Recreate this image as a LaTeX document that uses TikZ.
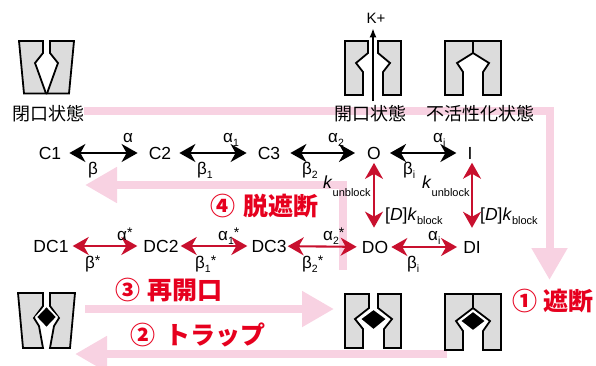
\documentclass[tikz,border=0pt]{standalone}
\usepackage{fontspec}
\setmainfont{Liberation Sans}
\newfontfamily\jp{Noto Sans CJK JP}
\usetikzlibrary{arrows.meta,calc}
\definecolor{blockpink}{RGB}{248,210,226}
\definecolor{arrowred}{RGB}{200,16,46}
\definecolor{labelred}{RGB}{230,0,30}
\definecolor{poregray}{RGB}{220,220,220}
% small lowered / raised text for rate constants
\newcommand{\lsb}[1]{\raisebox{-4pt}{\fontsize{10.5}{10.5}\selectfont #1}}
\newcommand{\lsp}[1]{\raisebox{3pt}{\fontsize{14}{14}\selectfont #1}}
\newcommand{\rsub}[2]{\raisebox{#1}{\fontsize{11}{11}\selectfont #2}}
\begin{document}
\begin{tikzpicture}[x=1pt,y=-1pt,
  state/.style={inner sep=0pt, font=\fontsize{17.5}{17.5}\selectfont},
  rate/.style={inner sep=0pt, anchor=base west, font=\fontsize{17}{17}\selectfont},
  krate/.style={inner sep=0pt, anchor=base west, font=\fontsize{17.5}{17.5}\selectfont},
  jplabel/.style={inner sep=0pt, font=\jp\fontsize{18}{18}\selectfont},
  steplabel/.style={inner sep=0pt, anchor=west, text=labelred, font=\jp\bfseries\fontsize{25}{25}\selectfont},
  biarrow/.style={line width=2.1pt, {Stealth[length=16pt,width=18pt,inset=5pt]}-{Stealth[length=16pt,width=18pt,inset=5pt]}},
  blackarrow/.style={biarrow, draw=black},
  redarrow/.style={biarrow, draw=arrowred},
  pinkarrow/.style={draw=blockpink, line width=8pt, line join=miter, -{Triangle[length=32pt,width=34pt]}},
  piece/.style={draw=black, fill=poregray, line width=1.8pt, line join=miter, miter limit=3},
  drug/.style={fill=black, draw=white, line width=1.6pt, line join=miter},
]
\useasboundingbox (0,0) rectangle (596,365);

% ---- process arrows (background) ----
\coordinate (blkS) at (84,111);  \coordinate (blkE) at (549.5,280);
\coordinate (trpS) at (447,354); \coordinate (trpE) at (75,354);
\coordinate (reoS) at (85,309);  \coordinate (reoE) at (334,309);
\coordinate (unbS) at (343,270); \coordinate (unbE) at (85,185);
\draw[pinkarrow] (blkS) -| (blkE);
\draw[pinkarrow] (trpS) -- (trpE);
\draw[pinkarrow] (reoS) -- (reoE);
\draw[pinkarrow] (unbS) |- (unbE);

% ---- channel cartoons, top row ----
% closed
\draw[piece] (19,41) -- (43,41) -- (43,53) -- (35,63) -- (36.5,67) -- (46,93.5) -- (24,93.5) -- cycle;
\draw[piece] (74,41) -- (50,41) -- (50,53) -- (58,63) -- (56.5,67) -- (47,93.5) -- (69,93.5) -- cycle;
% open
\draw[piece] (345,41) -- (368,41) -- (368,53) -- (356,63) -- (363,72) -- (363,95) -- (345,95) -- cycle;
\draw[piece] (401,41) -- (378,41) -- (378,53) -- (390,63) -- (383,72) -- (383,95) -- (401,95) -- cycle;
% inactivated
\draw[piece] (445,41) -- (501,41) -- (501,95) -- (483,95) -- (483,72) -- (489,63) -- (473,53)
  -- (457,63) -- (463,72) -- (463,95) -- (445,95) -- cycle;
\draw[line width=2.2pt] (473,41) -- (473,53);

% K+ flux
\node[inner sep=0pt, font=\fontsize{15}{15}\selectfont] (kion) at (376,18) {K+};
\coordinate (kbase) at (373,101);
\draw[line width=1.5pt, -{Latex[length=9pt,width=7pt]}, shorten >=5pt] (kbase) -- (kbase |- kion.south);

% ---- channel cartoons, bottom row (drug bound) ----
% trapped
\draw[piece] (18,293) -- (43,293) -- (43,306) -- (34,318) -- (39,326) -- (43,348) -- (23,348) -- cycle;
\draw[piece] (75,293) -- (50,293) -- (50,306) -- (59,318) -- (54,326) -- (50,348) -- (70,348) -- cycle;
\draw[drug] (36,317) -- (46.5,306) -- (57,317) -- (46.5,328) -- cycle;
% blocked open
\draw[piece] (345,294) -- (369,294) -- (369,308) -- (355,319) -- (363,329) -- (363,348) -- (345,348) -- cycle;
\draw[piece] (401,294) -- (378,294) -- (378,308) -- (392,319) -- (384,329) -- (384,348) -- (401,348) -- cycle;
\draw[drug] (360,319) -- (373.5,309) -- (387,319) -- (373.5,330) -- cycle;
% blocked inactivated
\draw[piece] (445,294) -- (501,294) -- (501,350) -- (483,350) -- (483,331) -- (490,321) -- (473,308)
  -- (456,321) -- (463,331) -- (463,350) -- (445,350) -- cycle;
\draw[line width=2.2pt] (473,294) -- (473,308);
\draw[drug] (460,321) -- (473,311) -- (486,321) -- (473,331) -- cycle;

% ---- state names ----
\node[jplabel] (lclosed) at (48.5,114) {閉口状態};
\node[jplabel] (lopen) at (370,114) {開口状態};
\node[jplabel] (linact) at (480,114) {不活性化状態};

% ---- kinetic scheme ----
\node[state] (C1) at (50,153) {C1};
\node[state] (C2) at (160,153) {C2};
\node[state] (C3) at (269,153) {C3};
\node[state] (O)  at (374,153) {O};
\node[state] (I)  at (470,153) {I};
\node[state] (DC1) at (51,246) {DC1};
\node[state] (DC2) at (161,246) {DC2};
\node[state] (DC3) at (269,246) {DC3};
\node[state] (DO)  at (375,247) {DO};
\node[state] (DI)  at (472,247) {DI};

\draw[blackarrow, shorten <=8pt, shorten >=11pt] (C1) -- (C2);
\draw[blackarrow, shorten <=8pt, shorten >=11pt] (C2) -- (C3);
\draw[blackarrow, shorten <=10pt, shorten >=12pt] (C3) -- (O);
\draw[blackarrow, shorten <=9pt, shorten >=11pt] (O) -- (I);
\draw[redarrow, shorten <=4pt, shorten >=6pt] (DC1) -- (DC2);
\draw[redarrow, shorten <=2pt, shorten >=4pt] (DC2) -- (DC3);
\draw[redarrow, shorten <=1pt, shorten >=5pt] (DC3) -- (DO);
\draw[redarrow, shorten <=3pt, shorten >=6pt] (DO) -- (DI);
\draw[redarrow, shorten <=3.5pt, shorten >=13pt] (O.south) -- (O.south |- DO.north);
\draw[redarrow, shorten <=3.5pt, shorten >=13pt] (DI.north |- I.south) -- (DI.north);

% rate constants
\node[rate] (a0) at (123,142) {α};
\node[rate] (a1) at (223,142) {α\lsb{1}};
\node[rate] (a2) at (328,142) {α\lsb{2}};
\node[rate] (ai) at (433,142) {α\lsb{i}};
\node[rate] (b0) at (88,174) {β};
\node[rate] (b1) at (197,174) {β\lsb{1}};
\node[rate] (b2) at (302,174) {β\lsb{2}};
\node[rate] (bi) at (403,174) {β\lsb{i}};
\node[rate] (as0) at (117,240) {α\lsp{*}};
\node[rate] (as1) at (218,240) {α\lsb{1}\lsp{*}};
\node[rate] (as2) at (323,240) {α\lsb{2}\lsp{*}};
\node[rate] (asi) at (428,240) {α\lsb{i}};
\node[rate] (bs0) at (85,268) {β\lsp{*}};
\node[rate] (bs1) at (195,268) {β\lsb{1}\lsp{*}};
\node[rate] (bs2) at (302,268) {β\lsb{2}\lsp{*}};
\node[rate] (bsi) at (407,268) {β\lsb{i}};
\node[krate] (ku1) at (323,188) {\textit{k}\rsub{-8pt}{unblock}};
\node[krate] (kb1) at (385,220) {[\textit{D}]\textit{k}\rsub{-4pt}{block}};
\node[krate] (ku2) at (422,188) {\textit{k}\rsub{-8pt}{unblock}};
\node[krate] (kb2) at (480,220) {[\textit{D}]\textit{k}\rsub{-4pt}{block}};

% ---- step labels ----
\node[steplabel] (s1) at (512,301) {①\hspace{6pt}遮断};
\node[steplabel] (s2) at (130,335) {②\hspace{10pt}トラップ};
\node[steplabel] (s3) at (115,290) {③\hspace{7pt}再開口};
\node[steplabel] (s4) at (210,206) {④\hspace{8pt}脱遮断};
\end{tikzpicture}
\end{document}
